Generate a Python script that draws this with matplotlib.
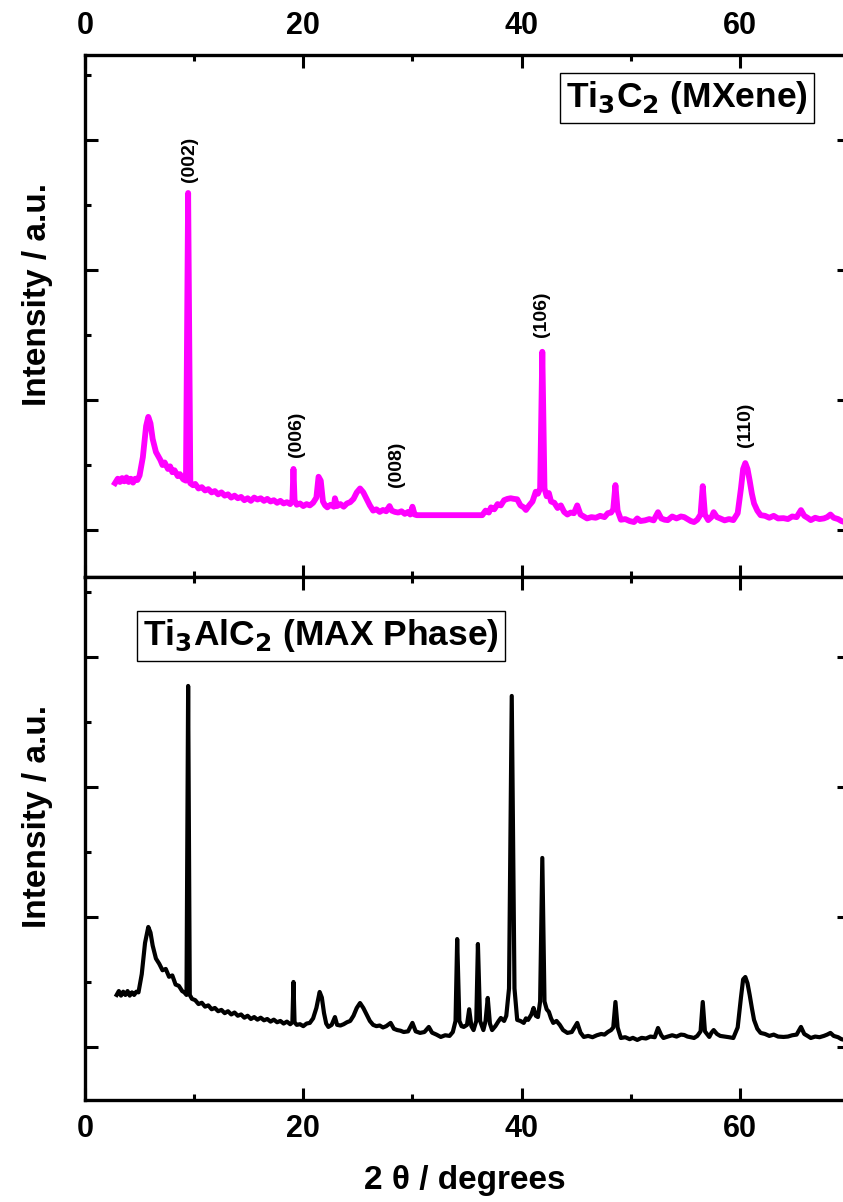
import numpy as np
import matplotlib.pyplot as plt
from matplotlib.ticker import MultipleLocator

# Ti3C2 (MXene) pattern
mx_2theta = [2.75, 3.0, 3.2, 3.4, 3.6, 3.8, 4.0, 4.2, 4.4, 4.6, 4.8, 5.0, 5.3, 5.6, 5.8, 6.0, 6.2, 6.5, 6.9,
             7.1, 7.3, 7.6, 7.8, 8.0, 8.2, 8.5, 8.7, 9.0, 9.25, 9.45, 9.65, 9.9, 10.1, 10.4, 10.7, 11.0,
             11.3, 11.6, 11.9, 12.2, 12.5, 12.8, 13.1, 13.4, 13.7, 14.0, 14.3, 14.6, 14.9, 15.2, 15.5,
             15.8, 16.1, 16.4, 16.7, 17.0, 17.3, 17.6, 17.9, 18.2, 18.5, 18.8, 19.0, 19.1, 19.2, 19.4,
             19.7, 20.0, 20.3, 20.6, 20.9, 21.2, 21.4, 21.6, 21.8, 22.0, 22.2, 22.5, 22.8, 22.9, 23.1,
             23.4, 23.7, 24.0, 24.3, 24.6, 24.9, 25.2, 25.5, 25.8, 26.1, 26.4, 26.7, 27.0, 27.3, 27.6,
             27.9, 28.1, 28.4, 28.7, 29.0, 29.3, 29.6, 29.8, 30.0, 30.2, 30.4, 36.4, 36.7, 37.0, 37.2,
             37.5, 37.8, 38.1, 38.4, 38.7, 39.0, 39.3, 39.6, 39.9, 40.2, 40.4, 40.7, 41.0, 41.3, 41.5,
             41.7, 41.9, 42.1, 42.3, 42.5, 42.7, 43.0, 43.3, 43.6, 43.9, 44.2, 44.5, 44.8, 45.1, 45.4,
             45.7, 46.0, 46.4, 46.8, 47.2, 47.6, 47.9, 48.2, 48.4, 48.6, 48.8, 49.1, 49.5, 49.9, 50.3,
             50.6, 50.9, 51.3, 51.7, 52.1, 52.5, 52.8, 53.1, 53.4, 53.8, 54.2, 54.6, 54.9, 55.2, 55.5,
             55.8, 56.1, 56.4, 56.6, 56.8, 57.1, 57.4, 57.6, 57.9, 58.2, 58.6, 59.0, 59.4, 59.8, 60.1,
             60.3, 60.5, 60.7, 60.9, 61.1, 61.3, 61.6, 61.9, 62.3, 62.7, 63.1, 63.5, 64.0, 64.4, 64.8,
             65.2, 65.6, 65.9, 66.2, 66.5, 66.9, 67.3, 67.7, 68.0, 68.3, 68.6, 69.0, 69.3, 69.6]
mx_int = [361, 395, 370, 400, 375, 405, 370, 395, 365, 395, 385, 420, 560, 800, 870, 820, 700, 600, 540,
          500, 520, 470, 490, 445, 460, 415, 430, 390, 380, 2590, 360, 345, 355, 320, 330, 305,
          315, 290, 300, 275, 290, 265, 275, 250, 265, 245, 255, 230, 245, 225, 250,
          235, 245, 225, 240, 220, 230, 210, 225, 205, 215, 200, 230, 470, 230, 195,
          205, 185, 200, 190, 210, 250, 410, 380, 220, 190, 175, 195, 180, 245, 185,
          200, 180, 205, 215, 240, 290, 320, 290, 240, 190, 150, 160, 140, 155, 145,
          185, 150, 140, 135, 145, 125, 140, 120, 180, 120, 115, 115, 150, 135, 175,
          160, 200, 190, 230, 240, 245, 240, 237, 190, 175, 155, 190, 220, 295, 280,
          320, 1370, 320, 260, 285, 220, 210, 170, 190, 140, 120, 135, 130, 190, 120,
          105, 90, 100, 95, 110, 100, 130, 135, 160, 346, 150, 80, 85, 70, 62,
          90, 70, 75, 85, 75, 138, 90, 80, 77, 105, 90, 105, 100, 85, 70,
          62, 80, 120, 338, 120, 77, 100, 138, 100, 90, 75, 85, 77, 130, 320,
          470, 515, 470, 380, 280, 205, 150, 115, 110, 95, 110, 90, 92, 85, 105,
          100, 154, 110, 95, 77, 95, 85, 90, 100, 120, 95, 85, 70, 62]

# Ti3AlC2 (MAX phase) pattern
max_2theta = [2.9, 3.1, 3.3, 3.5, 3.7, 3.9, 4.1, 4.3, 4.5, 4.7, 4.9, 5.2, 5.5, 5.8, 6.0, 6.2, 6.5, 6.8,
              7.1, 7.4, 7.7, 8.0, 8.3, 8.6, 8.9, 9.1, 9.3, 9.45, 9.6, 9.8, 10.1, 10.4, 10.7, 11.0, 11.3,
              11.6, 11.9, 12.2, 12.5, 12.8, 13.1, 13.4, 13.7, 14.0, 14.3, 14.6, 14.9, 15.2, 15.5, 15.8,
              16.1, 16.4, 16.7, 17.0, 17.3, 17.6, 17.9, 18.2, 18.5, 18.8, 19.0, 19.1, 19.2, 19.4, 19.7,
              20.0, 20.3, 20.6, 20.9, 21.2, 21.5, 21.7, 21.9, 22.1, 22.3, 22.6, 22.9, 23.1, 23.4, 23.7,
              24.0, 24.3, 24.6, 24.9, 25.2, 25.5, 25.8, 26.1, 26.4, 26.7, 27.0, 27.3, 27.6, 28.0, 28.3,
              28.6, 28.9, 29.2, 29.6, 30.0, 30.3, 30.7, 31.1, 31.5, 31.8, 32.2, 32.6, 33.0, 33.4, 33.7,
              33.95, 34.1, 34.3, 34.5, 34.7, 35.0, 35.2, 35.4, 35.6, 35.85, 36.0, 36.2, 36.5, 36.7, 36.9,
              37.1, 37.3, 37.6, 37.9, 38.1, 38.4, 38.6, 38.85, 39.1, 39.35, 39.6, 39.9, 40.2, 40.4, 40.6,
              40.9, 41.1, 41.3, 41.5, 41.7, 41.9, 42.1, 42.3, 42.5, 42.7, 42.9, 43.2, 43.5, 43.8, 44.2,
              44.6, 45.1, 45.4, 45.7, 46.1, 46.5, 46.9, 47.3, 47.6, 47.9, 48.2, 48.4, 48.6, 48.8, 49.1,
              49.5, 49.9, 50.2, 50.6, 51.0, 51.4, 51.8, 52.2, 52.5, 52.8, 53.0, 53.4, 53.8, 54.2, 54.6,
              54.9, 55.2, 55.5, 55.8, 56.1, 56.4, 56.6, 56.8, 57.2, 57.4, 57.6, 57.9, 58.2, 58.6, 59.0,
              59.4, 59.8, 60.1, 60.3, 60.5, 60.7, 60.9, 61.1, 61.3, 61.6, 61.9, 62.3, 62.7, 63.1, 63.5,
              64.0, 64.4, 64.8, 65.2, 65.6, 65.9, 66.2, 66.5, 66.9, 67.3, 67.7, 68.0, 68.3, 68.6, 69.0,
              69.3, 69.6]
max_int = [400, 430, 395, 425, 400, 430, 395, 420, 400, 425, 420, 560, 800, 923, 880, 780, 680, 640,
           590, 600, 540, 550, 480, 470, 430, 420, 400, 2777, 400, 370, 360, 330, 340, 310, 320,
           290, 300, 275, 285, 260, 275, 250, 265, 240, 250, 225, 240, 215, 230, 210,
           225, 205, 215, 195, 210, 190, 200, 180, 195, 175, 190, 500, 190, 170, 175,
           160, 180, 185, 220, 300, 423, 380, 260, 180, 154, 170, 230, 170, 165, 175,
           190, 200, 240, 300, 338, 300, 250, 200, 170, 160, 165, 150, 160, 185, 140,
           130, 125, 115, 120, 185, 120, 108, 115, 154, 110, 95, 77, 90, 85, 115,
           200, 830, 200, 160, 154, 170, 290, 160, 130, 200, 792, 200, 130, 200, 377,
           180, 130, 160, 200, 223, 200, 240, 450, 2700, 450, 208, 200, 185, 220, 208,
           250, 300, 240, 230, 350, 1454, 350, 290, 270, 220, 185, 200, 170, 130, 108,
           115, 185, 110, 77, 85, 75, 90, 100, 95, 115, 130, 150, 346, 150, 69,
           75, 60, 70, 54, 70, 65, 80, 75, 146, 90, 69, 80, 90, 80, 95,
           92, 80, 75, 69, 85, 120, 346, 120, 77, 110, 130, 100, 85, 80, 75,
           69, 150, 380, 520, 538, 490, 400, 300, 208, 140, 108, 100, 85, 95, 80,
           77, 80, 90, 95, 154, 100, 85, 69, 80, 75, 85, 95, 108, 85, 75,
           60, 54]

hkl_labels = ['(002)', '(006)', '(008)', '(106)', '(110)']
hkl_2theta = [9.6, 19.4, 28.5, 41.8, 60.5]
hkl_height = [2677, 560, 331, 1485, 638]

plt.rcParams['font.family'] = ['Liberation Sans', 'DejaVu Sans']
plt.rcParams['font.weight'] = 'bold'
plt.rcParams['mathtext.default'] = 'bf'

W, H = 843, 1202
fig = plt.figure(figsize=(W / 100, H / 100), dpi=100)
left = 85 / W
width = (849 - 85) / W
ax1 = fig.add_axes([left, 1 - 577 / H, width, (577 - 55) / H])
ax2 = fig.add_axes([left, 1 - 1100 / H, width, (1100 - 577) / H])

ax1.plot(mx_2theta, mx_int, color='#ff00ff', lw=4.2, solid_joinstyle='round')
ax2.plot(max_2theta, max_int, color='black', lw=3.0, solid_joinstyle='round')

ax1.set_ylim(-360, 3650)
ax2.set_ylim(-408, 3615)

for ax in (ax1, ax2):
    ax.set_xlim(0, 70)
    ax.xaxis.set_major_locator(MultipleLocator(20))
    ax.xaxis.set_minor_locator(MultipleLocator(10))
    ax.yaxis.set_major_locator(MultipleLocator(1000))
    ax.yaxis.set_minor_locator(MultipleLocator(500))
    ax.tick_params(which='both', direction='in', top=True, bottom=True, left=True, right=True,
                   labelleft=False, width=2.2, labelsize=22, pad=10)
    ax.tick_params(which='major', length=9)
    ax.tick_params(which='minor', length=4.5)
    for s in ax.spines.values():
        s.set_linewidth(2.4)

ax1.tick_params(labeltop=True, labelbottom=False)
ax2.tick_params(labeltop=False, labelbottom=True)
for ax in (ax1, ax2):
    for lbl in ax.get_xticklabels():
        lbl.set_fontweight('bold')

for lab, x, y in zip(hkl_labels, hkl_2theta, hkl_height):
    ax1.text(x, y, lab, rotation=90, ha='center', va='bottom', fontsize=14, fontweight='bold')

box = dict(boxstyle='square,pad=0.18', facecolor='white', edgecolor='black', linewidth=1)
fig.text(687 / W, 1 - 98 / H, 'Ti$_\\mathbf{3}$C$_\\mathbf{2}$ (MXene)',
         ha='center', va='center', fontsize=25.5, fontweight='bold', bbox=box)
fig.text(321 / W, 1 - 636 / H, 'Ti$_\\mathbf{3}$AlC$_\\mathbf{2}$ (MAX Phase)',
         ha='center', va='center', fontsize=25.5, fontweight='bold', bbox=box)

fig.text(38 / W, 1 - 295 / H, 'Intensity / a.u.', rotation=90, ha='center', va='center',
         fontsize=24, fontweight='bold')
fig.text(38 / W, 1 - 817 / H, 'Intensity / a.u.', rotation=90, ha='center', va='center',
         fontsize=24, fontweight='bold')
fig.text(465 / W, 1 - 1180 / H, '2 \u03b8 / degrees', ha='center', va='center',
         fontsize=24, fontweight='bold')

plt.savefig('out.png', dpi=100)
